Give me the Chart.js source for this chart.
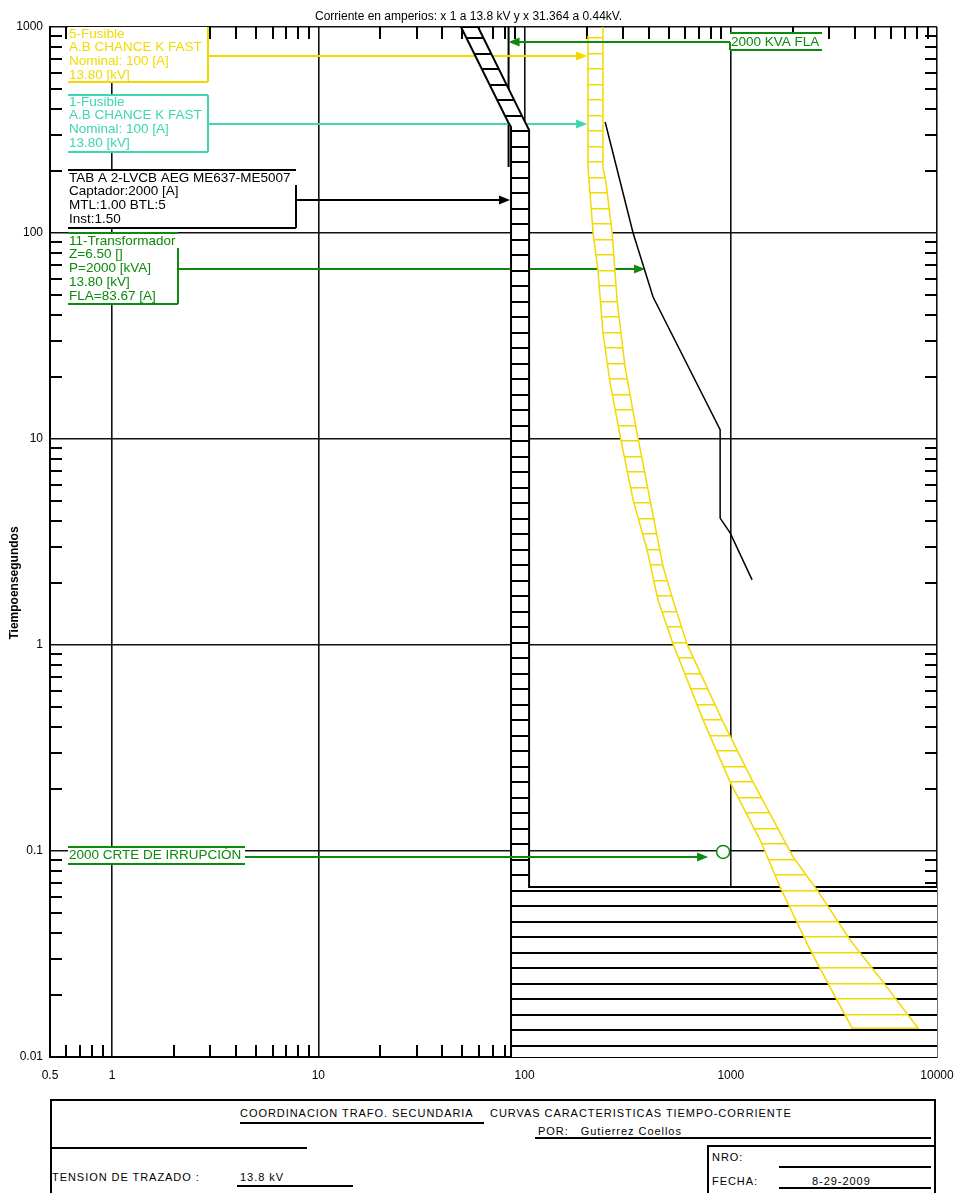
<!DOCTYPE html>
<html>
<head>
<meta charset="utf-8">
<title>Coordinacion trafo secundaria</title>
<script src="https://cdn.jsdelivr.net/npm/chart.js@4.4.1/dist/chart.umd.min.js"></script>
<style>
  body { margin: 0; background: #fff; font-family: "Liberation Sans", Arial, sans-serif; }
  #page { position: relative; width: 954px; height: 1193px; overflow: hidden; }
  #myChart { position: absolute; left: 0; top: 0; }
  .blk { position: absolute; color: #000; font-size: 11px; line-height: 12px; letter-spacing: 0.95px; white-space: nowrap; }
  .ln { position: absolute; background: #000; }
</style>
</head>
<body>
<div id="page">
  <canvas id="myChart" width="954" height="1095"></canvas>

  <!-- title block under the plot -->
  <div class="ln" style="left:50px;top:1099px;width:886px;height:2px"></div>
  <div class="ln" style="left:50px;top:1099px;width:2px;height:100px"></div>
  <div class="ln" style="left:934px;top:1099px;width:2px;height:100px"></div>
  <div class="blk" style="left:240px;top:1107px">COORDINACION TRAFO. SECUNDARIA</div>
  <div class="ln" style="left:240px;top:1122px;width:244px;height:2px"></div>
  <div class="blk" style="left:490px;top:1107px">CURVAS CARACTERISTICAS TIEMPO-CORRIENTE</div>
  <div class="blk" style="left:538px;top:1125px">POR:&nbsp;&nbsp; Gutierrez Coellos</div>
  <div class="ln" style="left:535px;top:1137px;width:396px;height:2px"></div>
  <div class="ln" style="left:50px;top:1147px;width:257px;height:2px"></div>
  <div class="ln" style="left:707px;top:1145px;width:229px;height:2px"></div>
  <div class="ln" style="left:707px;top:1145px;width:2px;height:60px"></div>
  <div class="blk" style="left:712px;top:1151px">NRO:</div>
  <div class="ln" style="left:779px;top:1166px;width:152px;height:2px"></div>
  <div class="blk" style="left:712px;top:1175px">FECHA:</div>
  <div class="blk" style="left:812px;top:1175px">8-29-2009</div>
  <div class="ln" style="left:779px;top:1187px;width:152px;height:2px"></div>
  <div class="blk" style="left:52px;top:1171px">TENSION DE TRAZADO :</div>
  <div class="blk" style="left:240px;top:1171px">13.8 kV</div>
  <div class="ln" style="left:237px;top:1185px;width:116px;height:2px"></div>
</div>

<script>
// axis ticks (log-log, amps at 13.8 kV vs seconds)
const xTickValues = [0.5, 1, 10, 100, 1000, 10000];
const xTickLabels = ["0.5", "1", "10", "100", "1000", "10000"];
const yTickValues = [0.01, 0.1, 1, 10, 100, 1000];
const yTickLabels = ["0.01", "0.1", "1", "10", "100", "1000"];
const minorSteps = [2, 3, 4, 5, 6, 7, 8, 9];

// fuse band (5-Fusible / 1-Fusible, K fast 100 A), minimum melt edge, top to bottom
const fuseMinAmps = [203, 203, 215, 227, 240, 260, 291, 336, 393, 444, 525, 734, 993, 1388, 1735, 2425, 3876];
const fuseMinSecs = [904, 209, 100, 66.1, 32.7, 18.7, 10.3, 5.06, 2.89, 1.65, 1.01, 0.433, 0.216, 0.113, 0.0669, 0.0331, 0.0138];
// total clearing edge, top to bottom
const fuseMaxAmps = [240, 240, 248, 266, 281, 307, 351, 406, 470, 525, 614, 907, 1283, 2006, 2622, 3790, 5480, 8100];
const fuseMaxSecs = [1000, 207, 177, 100, 47.3, 22.4, 10.7, 5.06, 2.39, 1.65, 1.01, 0.433, 0.216, 0.0935, 0.0647, 0.037, 0.0231, 0.0138];

// TAB A 2-LVCB band, one closed outline
const lvcbAmps = [49.2, 83.2, 86, 86, 30000, 30000, 105.2, 105.2, 98.4, 59.5, 49.2];
const lvcbSecs = [1000, 346, 327, 0.005, 0.005, 0.0668, 0.0668, 316, 361, 1000, 1000];

// transformer damage curve
const damageAmps = [246, 336, 420, 888, 888, 993, 1269];
const damageSecs = [346, 100, 48.9, 11.1, 4.13, 3.50, 2.07];

// transformer full load marker and inrush point
const flaAmps = [83.67, 83.67];
const flaSecs = [1000, 209];
const inrushAmps = [918];
const inrushSecs = [0.099];

// where each tag's arrow points (amps, seconds)
const tagTipAmps = [201, 201, 85, 384, 776, 83.67];
const tagTipSecs = [723, 338, 144.5, 66.8, 0.0935, 845];
const tagLines = [
    ["5-Fusible", "A.B CHANCE K FAST", "Nominal: 100 [A]", "13.80 [kV]"],
    ["1-Fusible", "A.B CHANCE K FAST", "Nominal: 100 [A]", "13.80 [kV]"],
    ["TAB A 2-LVCB AEG ME637-ME5007", "Captador:2000 [A]", "MTL:1.00 BTL:5", "Inst:1.50"],
    ["11-Transformador", "Z=6.50 []", "P=2000 [kVA]", "13.80 [kV]", "FLA=83.67 [A]"],
    ["2000 CRTE DE IRRUPCIÓN"],
    ["2000 KVA FLA"]
];

const YELLOW = "#f2da00";
const TEAL = "#3dd6b0";
const GREEN = "#0b8a0b";
const BLACK = "#000000";
const FONT = '"Liberation Sans", Arial, sans-serif';

// tag boxes, canvas pixels
const tagStyle = [
    { color: YELLOW, x0: 68, x1: 208, top: 27, bottom: 82, topLine: false, sideTop: 27, sideBottom: 82, textY: 34, side: "right" },
    { color: TEAL, x0: 68, x1: 208, top: 95, bottom: 152, topLine: true, sideTop: 95, sideBottom: 152, textY: 102, side: "right" },
    { color: BLACK, x0: 68, x1: 296, top: 170, bottom: 228, topLine: true, sideTop: 185, sideBottom: 228, textY: 178, side: "right" },
    { color: GREEN, x0: 68, x1: 178, top: 233, bottom: 304, topLine: true, sideTop: 248, sideBottom: 304, textY: 241, side: "right" },
    { color: GREEN, x0: 68, x1: 245, top: 847, bottom: 864, topLine: true, sideTop: 857, sideBottom: 857, textY: 855.5, side: "right" },
    { color: GREEN, x0: 730, x1: 822, top: 33, bottom: 50, topLine: true, sideTop: 42, sideBottom: 50, textY: 42, side: "left" }
];

const pts = (xs, ys) => xs.map((x, i) => ({ x: x, y: ys[i] }));

// fuse outline: down the melt edge, back up the clearing edge
const fuseOutline = pts(fuseMinAmps, fuseMinSecs).concat(pts(fuseMaxAmps, fuseMaxSecs).reverse());

const ctx = document.getElementById("myChart").getContext("2d");

// white background with horizontal hatch lines
function hatch(color, thick) {
    const c = document.createElement("canvas");
    c.width = 8; c.height = 31;
    const g = c.getContext("2d");
    g.fillStyle = "#fff";
    g.fillRect(0, 0, 8, 31);
    g.fillStyle = color;
    g.fillRect(0, 6, 8, thick);
    g.fillRect(0, 22, 8, thick);
    return ctx.createPattern(c, "repeat");
}

function drawTag(chart, i) {
    const g = chart.ctx;
    const st = tagStyle[i];
    const tipX = chart.scales.x.getPixelForValue(tagTipAmps[i]);
    const tipY = chart.scales.y.getPixelForValue(tagTipSecs[i]);
    const sideX = st.side === "right" ? st.x1 : st.x0;
    const dir = tipX > sideX ? 1 : -1;

    g.save();
    g.fillStyle = "#fff";
    g.fillRect(st.x0, st.top, st.x1 - st.x0, st.bottom - st.top);

    g.strokeStyle = st.color;
    g.lineWidth = 2;
    g.beginPath();
    if (st.topLine) { g.moveTo(st.x0, st.top); g.lineTo(st.x1, st.top); }
    g.moveTo(st.x0, st.bottom); g.lineTo(st.x1, st.bottom);
    g.moveTo(sideX, st.sideTop); g.lineTo(sideX, st.sideBottom);
    g.moveTo(sideX, tipY); g.lineTo(tipX - dir * 8, tipY);
    g.stroke();

    // arrow head
    g.fillStyle = st.color;
    g.beginPath();
    g.moveTo(tipX, tipY);
    g.lineTo(tipX - dir * 11, tipY - 4.5);
    g.lineTo(tipX - dir * 11, tipY + 4.5);
    g.closePath();
    g.fill();

    g.font = "13.5px " + FONT;
    g.textBaseline = "middle";
    g.textAlign = "left";
    tagLines[i].forEach((t, k) => g.fillText(t, st.x0 + 1, st.textY + k * 13.7));
    g.restore();
}

const decor = {
    id: "decor",
    beforeDatasetsDraw(chart) {
        // minor ticks pointing inward on all four sides
        const g = chart.ctx, a = chart.chartArea, sx = chart.scales.x, sy = chart.scales.y;
        g.save();
        g.strokeStyle = BLACK;
        g.lineWidth = 2;
        g.beginPath();
        for (let e = -1; e <= 3; e++) {
            minorSteps.forEach(m => {
                const v = m * Math.pow(10, e);
                if (v > 0.5 && v < 10000) {
                    const px = Math.round(sx.getPixelForValue(v));
                    g.moveTo(px, a.bottom); g.lineTo(px, a.bottom - 12);
                    g.moveTo(px, a.top); g.lineTo(px, a.top + 12);
                }
            });
        }
        [0.6, 0.7, 0.8, 0.9].forEach(v => {
            const px = Math.round(sx.getPixelForValue(v));
            g.moveTo(px, a.bottom); g.lineTo(px, a.bottom - 12);
            g.moveTo(px, a.top); g.lineTo(px, a.top + 12);
        });
        for (let e = -2; e <= 2; e++) {
            minorSteps.forEach(m => {
                const py = Math.round(sy.getPixelForValue(m * Math.pow(10, e)));
                g.moveTo(a.left, py); g.lineTo(a.left + 12, py);
                g.moveTo(a.right, py); g.lineTo(a.right - 12, py);
            });
        }
        g.stroke();
        g.restore();
    },
    afterDatasetDraw(chart, args) {
        // these leaders pass under the breaker band, so draw them just before it
        if (args.index === 4) {
            for (let i = 0; i < 4; i++) drawTag(chart, i);
        }
    },
    afterDatasetsDraw(chart) {
        drawTag(chart, 4);
        drawTag(chart, 5);
    },
    afterDraw(chart) {
        const g = chart.ctx;
        g.save();
        g.translate(15, 583);
        g.rotate(-Math.PI / 2);
        g.textAlign = "center";
        g.textBaseline = "middle";
        g.fillStyle = BLACK;
        g.font = "bold 12px " + FONT;
        g.fillText("Tiempoensegundos", 0, 0);
        g.restore();
    }
};

Chart.defaults.font.family = FONT;

// dataset 0 is drawn last (on top), dataset 4 first
const config = {
    type: "scatter",
    data: {
        datasets: [
            {
                label: "Irrupcion",
                data: pts(inrushAmps, inrushSecs),
                showLine: false,
                pointRadius: 6.5,
                pointBorderWidth: 1.5,
                pointBorderColor: GREEN,
                pointBackgroundColor: "#fff"
            },
            {
                label: "Curva de dano",
                data: pts(damageAmps, damageSecs),
                showLine: true,
                borderColor: BLACK,
                borderWidth: 1.5,
                pointRadius: 0,
                fill: false
            },
            {
                label: "Fusible",
                data: fuseOutline,
                showLine: true,
                borderColor: YELLOW,
                borderWidth: 1.5,
                pointRadius: 0,
                fill: "shape",
                backgroundColor: hatch(YELLOW, 1.5)
            },
            {
                label: "TAB A 2-LVCB",
                data: pts(lvcbAmps, lvcbSecs),
                showLine: true,
                borderColor: BLACK,
                borderWidth: 2,
                pointRadius: 0,
                fill: "shape",
                backgroundColor: hatch(BLACK, 2)
            },
            {
                label: "FLA",
                data: pts(flaAmps, flaSecs),
                showLine: true,
                borderColor: BLACK,
                borderWidth: 2,
                pointRadius: 0,
                fill: false
            }
        ]
    },
    options: {
        responsive: false,
        animation: false,
        events: [],
        layout: { padding: { left: 0, right: 17, top: 0, bottom: 0 } },
        plugins: {
            legend: { display: false },
            tooltip: { enabled: false },
            title: {
                display: true,
                text: "Corriente en amperios: x 1 a 13.8 kV y x 31.364 a 0.44kV.",
                color: BLACK,
                font: { size: 12, weight: "normal", lineHeight: 1 },
                padding: { top: 11, bottom: 4 }
            }
        },
        scales: {
            x: {
                type: "logarithmic",
                min: 0.5,
                max: 10000,
                afterBuildTicks: axis => { axis.ticks = xTickValues.map(v => ({ value: v })); },
                afterFit: scale => { scale.height = 38; scale.paddingLeft = 0; scale.paddingRight = 0; },
                ticks: {
                    autoSkip: false,
                    maxRotation: 0,
                    padding: 11,
                    color: BLACK,
                    font: { size: 12 },
                    callback: v => xTickLabels[xTickValues.indexOf(v)]
                },
                grid: { color: "#111", lineWidth: 1.6, drawTicks: false },
                border: { color: BLACK, width: 2 }
            },
            y: {
                type: "logarithmic",
                min: 0.01,
                max: 1000,
                afterBuildTicks: axis => { axis.ticks = yTickValues.map(v => ({ value: v })); },
                afterFit: scale => { scale.width = 50; scale.paddingTop = 0; scale.paddingBottom = 0; },
                ticks: {
                    autoSkip: false,
                    padding: 7,
                    color: BLACK,
                    font: { size: 12 },
                    callback: v => yTickLabels[yTickValues.indexOf(v)]
                },
                grid: { color: "#111", lineWidth: 1.6, drawTicks: false },
                border: { color: BLACK, width: 2 }
            }
        }
    },
    plugins: [decor]
};

const myChart = new Chart(ctx, config);
</script>
</body>
</html>
